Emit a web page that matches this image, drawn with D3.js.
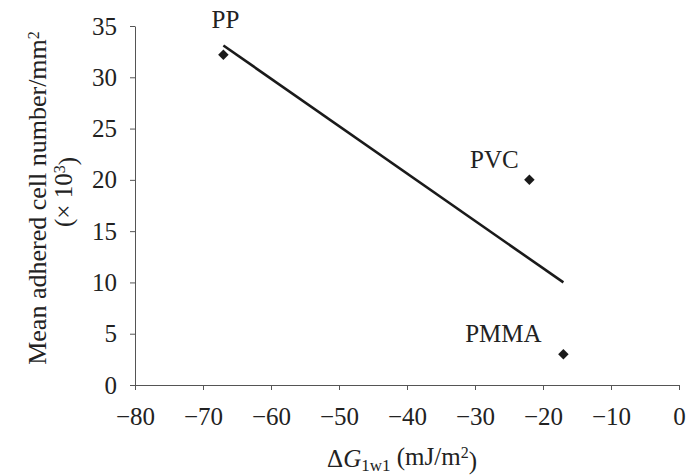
<!DOCTYPE html>
<html>
<head>
<meta charset="utf-8" />
<script src="https://cdn.jsdelivr.net/npm/d3@7"></script>
<style>
body { margin: 0; background: #fff; }
text { font-family: "Liberation Serif", "Times New Roman", serif; fill: #222; }
.axis path, .axis line { stroke: #555; }
</style>
</head>
<body>
<div id="chart"></div>
<script>
var w = 688, h = 476;
var margin = {left: 135, right: 9, top: 26, bottom: 91};

// data
var names = ["PP", "PVC", "PMMA"];
var dG = [-67, -22, -17];
var cells = [32.2, 20, 3];
// fitted line end points
var fitX = [-67, -17];
var fitY = [33.1, 10];
var xTicks = [-80, -70, -60, -50, -40, -30, -20, -10, 0];
var yTicks = [0, 5, 10, 15, 20, 25, 30, 35];

var svg = d3.select("#chart").append("svg")
    .attr("width", w).attr("height", h);

var x = d3.scaleLinear().domain([-80, 0]).range([margin.left, w - margin.right]);
var y = d3.scaleLinear().domain([0, 35]).range([h - margin.bottom, margin.top]);

var gx = svg.append("g").attr("class", "axis")
    .attr("transform", "translate(0," + y(0) + ")")
    .call(d3.axisBottom(x).tickValues(xTicks).tickSize(5).tickPadding(17).tickSizeOuter(0));
gx.selectAll("text").style("font-size", "25px");

var gy = svg.append("g").attr("class", "axis")
    .attr("transform", "translate(" + x(-80) + ",0)")
    .call(d3.axisLeft(y).tickValues(yTicks).tickSize(5).tickPadding(13).tickSizeOuter(0));
gy.selectAll("text").style("font-size", "25px");

// regression line
var pts = fitX.map(function(v, i) { return [v, fitY[i]]; });
svg.append("path")
    .attr("d", d3.line().x(function(d) { return x(d[0]); }).y(function(d) { return y(d[1]); })(pts))
    .attr("stroke", "#1a1a1a").attr("stroke-width", 2.6).attr("fill", "none");

// points
var sym = d3.symbol().type(d3.symbolDiamond2).size(70);
svg.selectAll(".pt").data(names).enter().append("path")
    .attr("class", "pt")
    .attr("d", sym)
    .attr("transform", function(d, i) { return "translate(" + x(dG[i]) + "," + y(cells[i]) + ")"; })
    .attr("fill", "#1a1a1a");

// point labels
var lblDx = [2, -35, -60];
var lblDy = [-27, -12, -12];
svg.selectAll(".lbl").data(names).enter().append("text")
    .attr("class", "lbl")
    .attr("x", function(d, i) { return x(dG[i]) + lblDx[i]; })
    .attr("y", function(d, i) { return y(cells[i]) + lblDy[i]; })
    .attr("text-anchor", "middle")
    .style("font-size", "25px")
    .text(function(d) { return d; });

// y axis title
var yt = svg.append("text")
    .attr("transform", "translate(46,198) rotate(-90)")
    .attr("text-anchor", "middle")
    .style("font-size", "26px");
yt.append("tspan").text("Mean adhered cell number/mm");
yt.append("tspan").attr("dy", "-0.45em").style("font-size", "16px").text("2");
var yt2 = svg.append("text")
    .attr("transform", "translate(72,192) rotate(-90)")
    .attr("text-anchor", "middle")
    .style("font-size", "25px");
yt2.append("tspan").text("(\u00d7 10");
yt2.append("tspan").attr("dy", "-0.45em").style("font-size", "16px").text("3");
yt2.append("tspan").attr("dy", "0.45em").text(")");

// x axis title
var xt = svg.append("text")
    .attr("x", 402).attr("y", 467)
    .attr("text-anchor", "middle")
    .style("font-size", "25px");
xt.append("tspan").text("\u0394");
xt.append("tspan").style("font-style", "italic").text("G");
xt.append("tspan").attr("dy", "0.25em").style("font-size", "17px").text("1w1");
xt.append("tspan").attr("dy", "-0.25em").text(" (mJ/m");
xt.append("tspan").attr("dy", "-0.45em").style("font-size", "16px").text("2");
xt.append("tspan").attr("dy", "0.45em").text(")");
</script>
</body>
</html>
